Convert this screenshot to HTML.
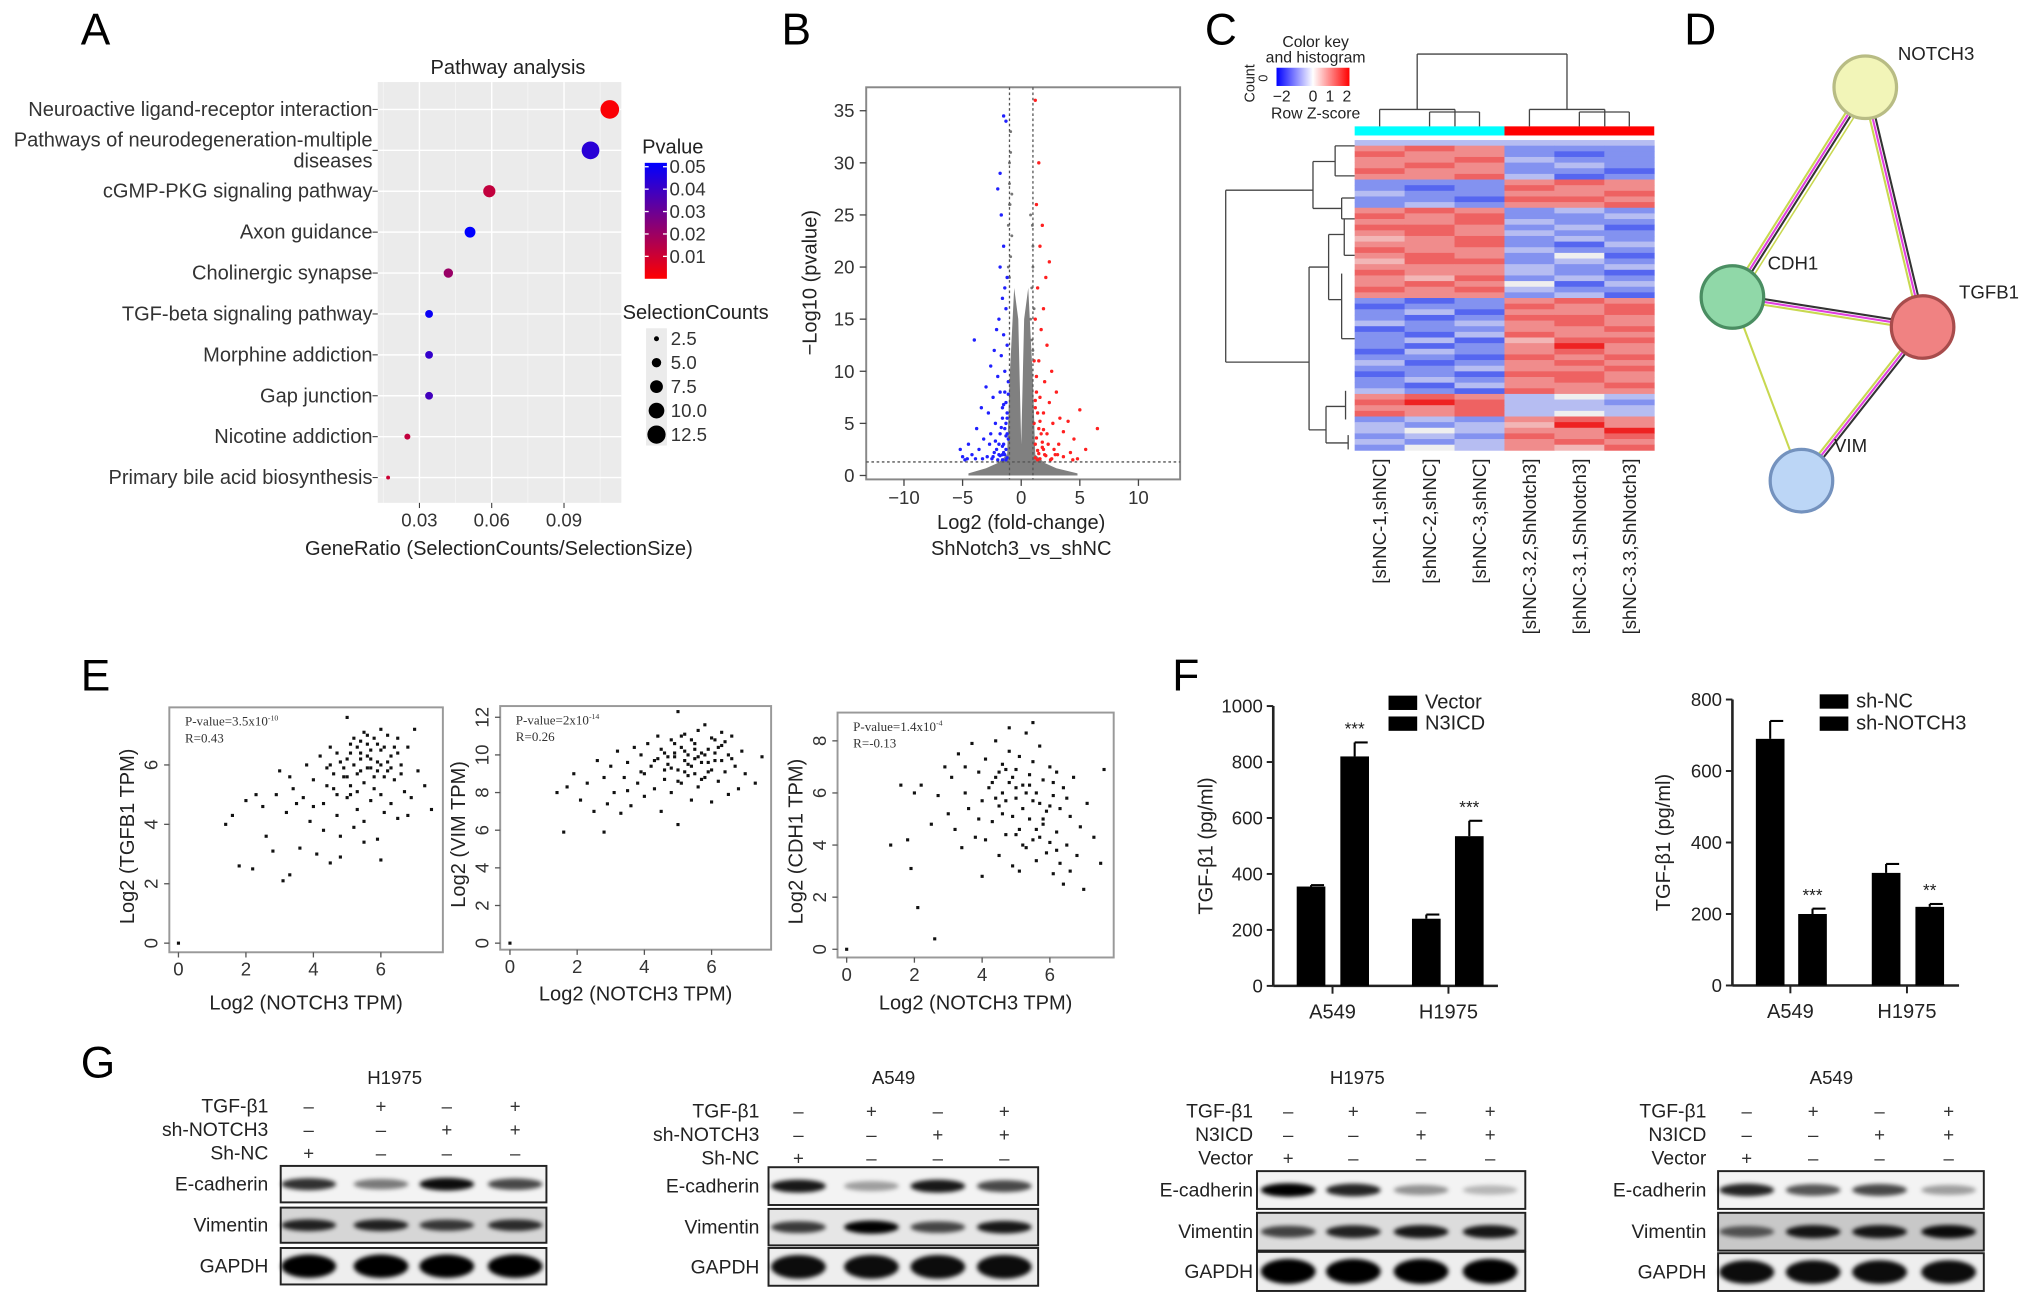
<!DOCTYPE html>
<html><head><meta charset="utf-8"><title>Figure</title>
<style>
html,body{margin:0;padding:0;background:#fff;}
svg{display:block;font-family:"Liberation Sans",sans-serif;}
.ser{font-family:"Liberation Serif",serif;}
</style></head>
<body>
<svg id="fig" width="2032" height="1304" viewBox="0 0 1560 1001" preserveAspectRatio="none" xmlns="http://www.w3.org/2000/svg">
<defs>
<linearGradient id="pgrad" x1="0" y1="0" x2="0" y2="1"><stop offset="0" stop-color="#0000ff"/><stop offset="1" stop-color="#ff0000"/></linearGradient>
<linearGradient id="zgrad" x1="0" y1="0" x2="1" y2="0"><stop offset="0" stop-color="#0000ff"/><stop offset="0.5" stop-color="#ffffff"/><stop offset="1" stop-color="#ff0000"/></linearGradient>
<filter id="blur" x="-30%" y="-80%" width="160%" height="260%"><feGaussianBlur stdDeviation="1.6"/></filter>
</defs>
<g font-size="34" fill="#000">
<text x="62" y="34">A</text>
<text x="600" y="34">B</text>
<text x="925" y="34">C</text>
<text x="1293" y="34">D</text>
<text x="62" y="530">E</text>
<text x="900" y="530">F</text>
<text x="62" y="827">G</text>
</g>
</svg>
<script>
// ===== DATA =====
// Panel A
const pathways = ["Neuroactive ligand-receptor interaction","Pathways of neurodegeneration-multiple|diseases","cGMP-PKG signaling pathway","Axon guidance","Cholinergic synapse","TGF-beta signaling pathway","Morphine addiction","Gap junction","Nicotine addiction","Primary bile acid biosynthesis"];
const geneRatio = [0.109,0.101,0.059,0.051,0.042,0.034,0.034,0.034,0.025,0.017];
const selCounts = [13,12,7,6,5,4,4,4,3,2];
const pvals = [0.001,0.042,0.012,0.05,0.02,0.048,0.04,0.037,0.012,0.01];
const aTicks = [0.03,0.06,0.09];
const pLegend = [0.05,0.04,0.03,0.02,0.01];
const sizeLegend = [2.5,5.0,7.5,10.0,12.5];
// Panel B volcano
const downX = [-1.5,-1.3,-1.8,-2.0,-1.7,-1.5,-1.8,-4.0,-1.2,-1.4,-1.6,-1.3,-1.9,-2.1,-1.5,-2.3,-1.7,-2.6,-1.4,-2.0,-3.0,-1.8,-2.4,-1.3,-3.4,-2.8,-1.6,-2.2,-3.8,-1.4,-2.6,-3.2,-4.5,-1.9,-5.2,-3.6,-2.3,-4.2,-2.9,-1.6,-5.0,-3.3,-2.0,-4.6,-1.2,-1.1,-1.2,-1.1,-1.3,-2.5,-1.5,-1.8,-1.3,-2.1,-1.6,-1.4,-2.7,-1.2,-1.9,-1.5,-1.2,-1.4,-1.6,-1.3,-1.7,-1.2,-1.5,-1.1,-2.2,-1.8,-3.9,-4.8,-2.4,-1.3,-1.6];
const downY = [34.5,34,29,27.5,25,22,20,13,19,18,17,16,15,14,13.5,12,11.5,10.5,10,9.5,8.5,8,7.5,7,6.5,6,5.5,5,4.5,4.5,4,3.5,3,3,2.5,2.5,2.2,2,1.8,2,1.8,1.6,1.5,1.6,12.5,9,6,3.5,2.5,1.6,3,4,5,2.5,6.5,8,3,4,2,2.2,1.7,2.0,2.8,3.8,4.6,5.5,6.8,7.8,3.3,1.9,1.6,1.5,1.8,1.5,1.5];
const upX = [1.2,1.5,1.3,1.8,2.4,1.6,2.1,1.4,1.9,1.2,1.7,2.2,1.5,2.6,1.3,2.0,3.0,1.6,2.4,1.2,1.9,3.3,2.7,1.5,5.0,6.5,4.0,3.6,2.2,4.5,1.8,3.2,5.5,2.8,1.4,4.2,2.0,3.6,1.6,4.8,2.5,1.1,1.1,1.2,1.4,1.7,2.3,1.3,1.9,2.9,1.2,1.5,1.8,1.3,2.1,1.6,1.2,2.6,3.1,4.4,1.4,1.9];
const upY = [36,30,26,24,20.5,22,19,18,16,15,14,12.5,11,10,9.5,9,8,7.5,7,6.5,6,5.5,5,4.5,6.3,4.5,5.2,4.2,4,3.5,3.2,3,2.5,2.5,2.4,2.2,2,1.8,1.6,1.6,1.5,11,5,3,6,4,3,8,2.5,2,1.7,2.1,2.7,3.6,1.9,5.2,7.2,1.6,2.0,1.5,1.5,4.4];
const grayEnvX = [-4.5,-3,-2,-1.2,-1.0,-0.6,-0.25,0,0.25,0.6,1.0,1.2,2,3,4.8];
const grayEnvY = [0.2,0.7,1.2,2,9,18,15,3,15,18,9,2,1.2,0.7,0.2];
const grayX = [-1.0,-1.0,-0.9,-1.1,-0.8,1.0,0.9,1.0,1.1,-0.9,0.8,-1.0,-0.9,-1.0,0.9,1.0,-0.8,0.8,-1.1,1.1,-0.95,0.95];
const grayY = [28,30,33,24,27,20,18,22,16,31,25,26,21,19,13,12,23,15,20,11,26,24];
const bXTicks = [-10,-5,0,5,10];
const bYTicks = [0,5,10,15,20,25,30,35];
// Panel C heatmap (digit 0..8 => z = (d-4)/2)
const heatRows = ["333333","676222","766212","667322","676232","766221","667312","222676","212766","322667","221776","232667","676232","767223","667322","776231","676322","567232","667213","766322","676241","577232","666323","766321","657232","676413","767322","666231","212676","122767","231667","212776","323676","122667","213766","231577","212686","132676","221767","312676","223667","121776","232676","213667","321766","676343","787332","667333","767343","232676","323586","343668","232767","323676","243657"];
const heatCols = ["[shNC-1,shNC]","[shNC-2,shNC]","[shNC-3,shNC]","[shNC-3.2,ShNotch3]","[shNC-3.1,ShNotch3]","[shNC-3.3,ShNotch3]"];
// Panel E scatter
const e1 = "0,0 1.4,4.0 1.6,4.3 1.8,2.6 2.2,2.5 2.0,4.8 2.3,5.0 2.5,4.6 2.6,3.6 2.8,3.1 3.1,2.1 3.3,2.3 3.0,5.8 3.2,4.4 3.4,5.2 3.6,3.2 3.7,4.9 3.8,6.0 3.9,4.1 4.0,5.5 4.1,3.0 4.2,6.3 4.3,4.7 4.4,5.9 4.5,2.7 4.5,6.6 4.6,5.2 4.7,4.3 4.8,6.1 4.8,3.6 4.9,5.6 5.0,7.6 5.0,4.9 5.1,6.4 5.1,5.3 5.2,3.9 5.2,6.0 5.3,5.7 5.3,4.5 5.4,6.8 5.4,6.2 5.5,5.4 5.5,4.1 5.6,7.0 5.6,5.9 5.7,6.5 5.7,4.8 5.8,5.6 5.8,6.9 5.9,6.1 5.9,3.5 6.0,7.2 6.0,5.0 6.1,6.6 6.1,4.4 6.2,5.8 6.2,7.0 6.3,6.3 6.3,4.7 6.4,5.5 6.5,6.9 6.5,4.2 6.6,6.0 6.7,5.1 6.8,6.6 6.9,4.9 7.0,7.2 7.1,5.8 7.3,5.3 7.5,4.5 4.6,5.7 5.0,6.2 5.3,6.6 5.6,6.3 5.9,6.7 6.2,6.1 4.9,5.9 5.4,5.8 5.7,5.9 6.0,6.0 5.2,6.9 5.5,7.1 6.4,6.6 4.4,5.3 4.7,6.4 5.1,5.0 5.8,5.2 6.1,5.6 6.6,5.7 4.0,4.6 3.5,4.7 4.3,3.8 5.5,3.4 6.0,2.8 4.8,2.9 6.8,4.3 2.9,5.0 3.3,5.6 5.7,6.2 5.3,5.1 5.0,5.6 5.4,6.4 5.9,5.8 6.3,5.9 4.7,5.0 5.6,6.7 6.0,6.5 5.1,6.7 4.5,6.0 6.5,6.4";
const e2 = "0,0 1.4,8.0 1.6,5.9 1.7,8.3 1.9,9.0 2.1,7.6 2.3,8.5 2.5,7.0 2.6,9.7 2.8,5.9 2.9,7.4 3.0,9.4 3.1,8.0 3.2,10.2 3.3,6.9 3.4,8.8 3.5,9.6 3.6,7.3 3.7,10.4 3.8,8.5 3.9,9.1 4.0,7.8 4.1,10.6 4.2,9.4 4.3,8.2 4.4,11.0 4.4,9.8 4.5,7.0 4.6,10.1 4.6,8.7 4.7,9.5 4.8,10.8 4.8,8.0 4.9,9.9 5.0,12.3 5.0,6.3 5.0,9.2 5.1,10.4 5.1,8.5 5.2,9.7 5.2,11.1 5.3,8.9 5.3,10.0 5.4,9.4 5.4,7.6 5.5,10.6 5.5,9.0 5.6,11.3 5.6,8.3 5.7,10.1 5.7,9.6 5.8,11.6 5.8,8.8 5.9,10.3 6.0,9.2 6.0,7.5 6.1,10.8 6.1,9.7 6.2,8.6 6.3,10.5 6.3,11.2 6.4,9.1 6.5,10.0 6.5,7.9 6.6,11.0 6.7,9.4 6.8,8.2 6.9,10.2 7.0,9.0 7.3,8.5 7.5,9.9 4.5,10.3 4.9,10.6 5.2,10.2 5.5,9.8 5.8,10.0 6.1,10.1 4.7,9.9 5.3,9.5 5.6,9.9 5.9,9.6 4.3,9.7 6.2,10.4 5.1,11.0 5.4,10.8 4.8,9.3 5.7,8.7 3.9,10.0 6.4,10.7 2.8,8.8 3.5,8.1 4.0,9.0 6.6,9.8 5.0,8.6 6.0,10.9 5.2,9.1 4.6,9.2 5.9,9.1 6.3,9.7 4.9,10.1 5.5,10.3";
const e3 = "0,0 1.3,4.0 1.6,6.3 1.8,4.2 1.9,3.1 2.0,6.0 2.1,1.6 2.2,6.3 2.5,4.8 2.6,0.4 2.7,5.9 2.9,7.0 3.0,5.2 3.1,6.6 3.2,4.6 3.3,7.5 3.4,3.9 3.5,6.0 3.6,5.4 3.7,7.9 3.8,4.3 3.9,6.8 4.0,5.7 4.0,2.8 4.1,7.3 4.2,6.2 4.3,4.9 4.4,8.0 4.4,6.6 4.5,5.5 4.5,3.6 4.6,7.1 4.6,6.0 4.7,4.4 4.8,7.6 4.8,6.4 4.9,5.1 4.9,3.2 5.0,6.9 5.0,5.8 5.1,7.4 5.1,4.6 5.2,6.3 5.2,5.4 5.3,8.3 5.3,3.9 5.4,6.7 5.4,5.0 5.5,7.2 5.5,4.2 5.6,6.0 5.6,3.4 5.7,5.6 5.7,7.8 5.8,4.8 5.8,6.5 5.9,3.7 5.9,5.3 6.0,7.0 6.0,4.1 6.1,5.9 6.1,2.9 6.2,4.5 6.2,6.8 6.3,3.3 6.3,5.4 6.4,2.5 6.4,6.2 6.5,4.0 6.6,5.1 6.6,3.0 6.7,6.6 6.8,3.6 6.9,4.7 7.0,2.3 7.1,5.6 7.3,4.3 7.5,3.3 7.6,6.9 4.3,6.4 4.7,6.9 5.0,6.2 5.3,6.0 4.6,5.2 4.9,6.6 5.5,5.7 5.2,4.0 4.4,5.8 5.8,5.0 6.0,5.5 3.9,5.0 4.1,4.2 5.6,4.6 6.2,3.8 6.5,5.8 4.8,8.5 5.5,8.7 3.5,7.0 5.1,3.0 4.7,5.7 5.4,6.3 5.0,4.4 5.7,4.3 4.5,6.8 6.1,6.4";
const e1Ticks=[0,2,4,6], e1YTicks=[0,2,4,6];
const e2Ticks=[0,2,4,6], e2YTicks=[0,2,4,6,8,10,12];
const e3Ticks=[0,2,4,6], e3YTicks=[0,2,4,6,8];
// Panel F
const fGroups = ["A549","H1975"];
const f1Vector = [355,240], f1N3ICD = [820,535];
const f1VectorErr = [360,255], f1N3ICDErr = [870,590];
const f1Stars = ["***","***"];
const f1Ticks = [0,200,400,600,800,1000];
const f2ShNC = [690,315], f2ShNOTCH3 = [200,220];
const f2ShNCErr = [740,340], f2ShNOTCH3Err = [215,228];
const f2Stars = ["***","**"];
const f2Ticks = [0,200,400,600,800];
// Panel G band intensities
const g1Ecad=[0.8,0.5,0.95,0.7], g1Vim=[0.85,0.85,0.75,0.8], g1Gapdh=[1,1,1,1];
const g2Ecad=[0.9,0.35,0.9,0.7], g2Vim=[0.75,1,0.7,0.9], g2Gapdh=[0.95,0.95,0.95,0.95];
const g3Ecad=[1,0.85,0.4,0.25], g3Vim=[0.7,0.85,0.9,0.9], g3Gapdh=[1,1,1,1];
const g4Ecad=[0.85,0.65,0.7,0.35], g4Vim=[0.6,0.9,0.9,0.95], g4Gapdh=[0.95,0.95,0.95,0.95];

// ===== HELPERS =====
const NS='http://www.w3.org/2000/svg';
const FS=1.1;
const svg=document.getElementById('fig');
function mk(tag,attrs,parent){const e=document.createElementNS(NS,tag);for(const k in attrs)e.setAttribute(k,attrs[k]);(parent||svg).appendChild(e);return e;}
function T(str,x,y,size,anchor,extra){const e=mk('text',Object.assign({x:x,y:y,'font-size':size*FS,'text-anchor':anchor||'start',fill:'#000'},extra||{}));e.textContent=str;return e;}
function L(x1,y1,x2,y2,stroke,w,extra){return mk('line',Object.assign({x1:x1,y1:y1,x2:x2,y2:y2,stroke:stroke||'#000','stroke-width':w||1},extra||{}));}

// ===== PANEL A =====
(function(){
const ax=v=>322+(v-0.03)*1850, ay=i=>84+i*31.4;
let e=T('Pathway analysis',390,57,14,'middle',{fill:'#222'});

e=mk('rect',{x:290,y:63,width:187,height:323,fill:'#ebebeb'});

[0.015,0.045,0.075,0.105].forEach(v=>L(ax(v),63,ax(v),386,'#f6f6f6',0.6));
aTicks.forEach(v=>{L(ax(v),63,ax(v),386,'#fff',1.1);L(ax(v),386,ax(v),390,'#333',0.8);
 e=T(v.toFixed(2),ax(v),404,13,'middle',{fill:'#333'});
 });
pathways.forEach((p,i)=>{L(290,ay(i),477,ay(i),'#fff',1.1);L(286,ay(i),290,ay(i),'#333',0.8);
 const parts=p.split('|');
 if(parts.length==1){e=T(parts[0],286,ay(i)+5,14,'end',{fill:'#333'});}
 else{e=T(parts[0],286,ay(i)-3,14,'end',{fill:'#333'});const e2=T(parts[1],286,ay(i)+13,14,'end',{fill:'#333'});
 }
 });
const col=p=>{const t=Math.min(1,p/0.05);return 'rgb('+Math.round(255*(1-t))+',0,'+Math.round(255*t)+')';};
const rad=c=>2.6*Math.sqrt(c)-2.2;
geneRatio.forEach((g,i)=>{const c=mk('circle',{cx:ax(g),cy:ay(i),r:rad(selCounts[i]),fill:col(pvals[i])});
 });
e=T('GeneRatio (SelectionCounts/SelectionSize)',383,426,14,'middle',{fill:'#222'});

e=T('Pvalue',493,118,14,'start',{fill:'#222'});

e=mk('rect',{x:495,y:125,width:17,height:89,fill:'url(#pgrad)'});

pLegend.forEach(p=>{const y=214-(p/0.05)*86;L(495,y,498,y,'#fff',1);L(509,y,512,y,'#fff',1);
 e=T(p.toFixed(2),514,y+5,13,'start',{fill:'#333'});
 });
e=T('SelectionCounts',478,245,14,'start',{fill:'#222'});

mk('rect',{x:496,y:252,width:16,height:90,fill:'#ebebeb'});
sizeLegend.forEach((s,i)=>{const y=260+i*18.4;const c=mk('circle',{cx:504,cy:y,r:rad(s),fill:'#000'});
 
 e=T(s.toFixed(1),515,y+5,13,'start',{fill:'#333'});
 });
})();

// ===== PANEL B =====
(function(){
const bx=v=>784+9*v, by=v=>365-8*v;
let e=mk('rect',{x:665,y:67,width:241,height:301,fill:'#fff',stroke:'#888','stroke-width':1.5});

bYTicks.forEach(v=>{L(660,by(v),665,by(v),'#444',1);e=T(String(v),656,by(v)+5,13,'end',{fill:'#333'});
 });
bXTicks.forEach(v=>{L(bx(v),368,bx(v),373,'#444',1);e=T(v<0?'\u2212'+(-v):String(v),bx(v),387,13,'middle',{fill:'#333'});
 });
let d='M'+bx(grayEnvX[0])+','+by(0);
grayEnvX.forEach((x,i)=>{d+=' L'+bx(x)+','+by(grayEnvY[i]);});
d+=' L'+bx(grayEnvX[grayEnvX.length-1])+','+by(0)+' Z';
e=mk('path',{d:d,fill:'#808080'});

grayX.forEach((x,i)=>{const c=mk('circle',{cx:bx(x),cy:by(grayY[i]),r:1.1,fill:'#777'});
 });
downX.forEach((x,i)=>{const c=mk('circle',{cx:bx(x),cy:by(downY[i]),r:1.3,fill:'#2020ff'});
 });
upX.forEach((x,i)=>{const c=mk('circle',{cx:bx(x),cy:by(upY[i]),r:1.3,fill:'#ff2020'});
 });
[-1,1].forEach(v=>L(bx(v),67,bx(v),368,'#555',1,{'stroke-dasharray':'2,2'}));
L(665,by(1.3),906,by(1.3),'#555',1,{'stroke-dasharray':'2,2'});
e=T('\u2212Log10 (pvalue)',627,217,14,'middle',{transform:'rotate(-90 627 217)',fill:'#222'});

e=T('Log2 (fold-change)',784,406,14,'middle',{fill:'#222'});

e=T('ShNotch3_vs_shNC',784,426,14,'middle',{fill:'#222'});

})();

// ===== PANEL C =====
(function(){
const x0=1040,cw=230/6,y0=107.5,rh=(345.7-107.5)/heatRows.length;
const pal=["#3040ee","#5566f0","#8392f0","#b6bdf2","#efefef","#f2b6b6","#f08c8c","#ee6262","#ee2222"];
heatRows.forEach((row,r)=>{for(let c=0;c<6;c++){const d=+row[c];
 const e=mk('rect',{x:x0+c*cw,y:y0+r*rh,width:cw+0.3,height:rh+0.3,fill:pal[d]});
 }});
let e=mk('rect',{x:1040,y:97,width:115,height:7,fill:'#00ffff'});

e=mk('rect',{x:1155,y:97,width:115,height:7,fill:'#ff0000'});

const cx=c=>x0+(c+0.5)*cw;
[[1088,41.5,1203,41.5],[1088,41.5,1088,84],[1203,41.5,1203,84],[cx(0),84,1117,84],[cx(0),84,cx(0),97],[1117,84,1117,97],[cx(1),86,cx(2),86],[cx(1),86,cx(1),97],[cx(2),86,cx(2),97],
 [cx(3),84,1232,84],[cx(3),84,cx(3),97],[1232,84,1232,97],[cx(4),86,cx(5),86],[cx(4),86,cx(4),97],[cx(5),86,cx(5),97]].forEach(a=>{const l=L(a[0],a[1],a[2],a[3],'#444',1);
 });
const rg=[[941,146,941,278],[941,146,1008,146],[941,278,1005,278],[1008,124,1008,160],[1008,124,1025,124],[1008,160,1030,160],[1025,112,1025,135],[1030,152,1030,168],
 [1005,205,1005,330],[1005,205,1020,205],[1005,330,1018,330],[1020,180,1020,230],[1018,312,1018,340],[1020,180,1032,180],[1020,230,1030,230],[1032,168,1032,196],[1030,210,1030,260],[1018,312,1033,312],[1018,340,1035,340],[1025,112,1040,112],[1025,135,1040,135],[1030,152,1040,152],[1030,168,1040,168],[1032,196,1040,196],[1030,260,1040,260],[1033,300,1033,322],[1035,334,1035,345]];
rg.forEach(a=>{const l=L(a[0],a[1],a[2],a[3],'#444',1);});
heatCols.forEach((n,c)=>{const x=cx(c)+5;e=T(n,x,352,13,'end',{transform:'rotate(-90 '+x+' 352)',fill:'#222'});
 });
e=T('Color key',1010,36,11,'middle',{fill:'#222'});
e=T('and histogram',1010,48,11,'middle',{fill:'#222'});
e=mk('rect',{x:980,y:52,width:56,height:14,fill:'url(#zgrad)'});
e=T('Count',963,64,10,'middle',{transform:'rotate(-90 963 64)',fill:'#222'});
e=T('0',973,60,9,'middle',{transform:'rotate(-90 973 60)',fill:'#222'});

[['\u22122',984],['0',1008],['1',1021],['2',1034]].forEach(t=>{e=T(t[0],t[1],78,11,'middle',{fill:'#222'});
 });
e=T('Row Z-score',1010,91,11,'middle',{fill:'#222'});
})();

// ===== PANEL D =====
(function(){
const nodes={NOTCH3:[1432,67,'#f2f5b8','#b8bc84'],CDH1:[1330,228,'#90d8a8','#4a8e62'],TGFB1:[1476,251,'#f08282','#a84c4c'],VIM:[1383,369,'#bcd6f6','#7492be']};
const multi=[['NOTCH3','CDH1'],['NOTCH3','TGFB1'],['CDH1','TGFB1'],['TGFB1','VIM']];
const cols=['#333','#e040e0','#c8d850'];
multi.forEach(p=>{const a=nodes[p[0]],b=nodes[p[1]];const dx=b[0]-a[0],dy=b[1]-a[1],len=Math.hypot(dx,dy),nx=-dy/len,ny=dx/len;
 cols.forEach((c,k)=>{const o=(k-1)*2.2;const e=L(a[0]+nx*o,a[1]+ny*o,b[0]+nx*o,b[1]+ny*o,c,1.6);
 });});
let e=L(1330,228,1383,369,'#c8d850',1.6);
e=L(1432,67,1330,228,'#c8d850',1.2,{transform:'translate(4,3)'});

Object.keys(nodes).forEach(k=>{const n=nodes[k];const c=mk('circle',{cx:n[0],cy:n[1],r:24,fill:n[2],stroke:n[3],'stroke-width':2.5});
 });
[['NOTCH3',1457,46],['CDH1',1357,207],['TGFB1',1504,229],['VIM',1408,347]].forEach(t=>{e=T(t[0],t[1],t[2],13,'start',{fill:'#222'});
 });
})();

// ===== PANEL E =====
function scatter(data,fr,sx,sy,xt,yt,ylab,pv,r,xlabY){
 let e=mk('rect',{x:fr[0],y:fr[1],width:fr[2]-fr[0],height:fr[3]-fr[1],fill:'#fff',stroke:'#999','stroke-width':1.5});
 
 data.split(' ').forEach(pt=>{const a=pt.split(',').map(Number);const c=mk('rect',{x:sx(a[0])-1.2,y:sy(a[1])-1.2,width:2.4,height:2.4,fill:'#111'});
 });
 xt.forEach(v=>{L(sx(v),fr[3],sx(v),fr[3]+4,'#555',1);e=T(String(v),sx(v),fr[3]+18,13,'middle',{fill:'#333'});
 });
 yt.forEach(v=>{L(fr[0]-4,sy(v),fr[0],sy(v),'#555',1);const x=fr[0]-9;e=T(String(v),x,sy(v),13,'middle',{transform:'rotate(-90 '+x+' '+sy(v)+')',fill:'#333'});
 });
 const cy=(fr[1]+fr[3])/2+5, lx=fr[0]-27;
 e=T(ylab,lx,cy,14,'middle',{transform:'rotate(-90 '+lx+' '+cy+')',fill:'#222'});
 
 e=T('Log2 (NOTCH3 TPM)',(fr[0]+fr[2])/2,xlabY,14,'middle',{fill:'#222'});
 
 e=mk('text',{x:fr[0]+12,y:fr[1]+14,'font-size':10,fill:'#333','class':'ser'});
 e.innerHTML='P-value='+pv[0]+'x10<tspan dy="-4" font-size="6">'+pv[1]+'</tspan>';
 
 e=mk('text',{x:fr[0]+12,y:fr[1]+27,'font-size':10,fill:'#333','class':'ser'});e.textContent='R='+r;
 
}
scatter(e1,[130,543,340,731],v=>137+25.9*v,v=>724-22.8*v,e1Ticks,e1YTicks,'Log2 (TGFB1 TPM)',['3.5','-10'],'0.43',775);
scatter(e2,[384,542,592,729],v=>391.5+25.8*v,v=>724-14.45*v,e2Ticks,e2YTicks,'Log2 (VIM TPM)',['2','-14'],'0.26',768);
scatter(e3,[643,547,855,735],v=>650+26*v,v=>728.7-20*v,e3Ticks,e3YTicks,'Log2 (CDH1 TPM)',['1.4','-4'],'-0.13',775);

// ===== PANEL F =====
function barChart(axX,axEnd,y0,k,ticks,s1,s2,e1,e2,stars,barX,ylabX,legY,legNames,legX,grpX,name){
 const fy=v=>y0-k*v;
 let e;
 L(axX,fy(ticks[ticks.length-1]),axX,y0,'#222',2);L(axX,y0,axEnd,y0,'#222',2);
 ticks.forEach(v=>{L(axX-5,fy(v),axX,fy(v),'#222',1.5);e=T(String(v),axX-8,fy(v)+5,13,'end',{fill:'#222'});
 });
 fGroups.forEach((g,i)=>{
  [[s1,e1,barX[i][0]],[s2,e2,barX[i][1]]].forEach((s,j)=>{const x=s[2],w=22;
   L(x+w/2,fy(s[1][i]),x+w/2,fy(s[0][i]),'#000',1.6);L(x+w/2,fy(s[1][i]),x+w-1,fy(s[1][i]),'#000',1.6);
   const b=mk('rect',{x:x,y:fy(s[0][i]),width:w,height:y0-fy(s[0][i]),fill:'#000'});
   });
  const sx=barX[i][1]+11;e=T(stars[i],sx,fy(e2[i])-6,12,'middle',{fill:'#222'});
  
  L(grpX[i],y0,grpX[i],y0+6,'#222',1.5);
  e=T(g,grpX[i],y0+25,14,'middle',{fill:'#222'});});
 const cy=(fy(ticks[ticks.length-1])+y0)/2;
 e=T('TGF-\u03b21 (pg/ml)',ylabX,cy,14,'middle',{transform:'rotate(-90 '+ylabX+' '+cy+')',fill:'#222'});
 
 legNames.forEach((n,i)=>{const r=mk('rect',{x:legX,y:legY[i]-5,width:22,height:11,fill:'#000'});
  
  e=T(n,legX+28,legY[i]+5,14,'start',{fill:'#222'});});
}
barChart(977.5,1150,756.8,0.2148,f1Ticks,f1Vector,f1N3ICD,f1VectorErr,f1N3ICDErr,f1Stars,[[995.5,1029],[1084,1117]],931,[539,555],['Vector','N3ICD'],1066,[1023,1112],'tgfb1-overexpr');
barChart(1330,1504,756.5,0.2744,f2Ticks,f2ShNC,f2ShNOTCH3,f2ShNCErr,f2ShNOTCH3Err,f2Stars,[[1348,1380.5],[1437,1470.5]],1282,[538,555],['sh-NC','sh-NOTCH3'],1397,[1374.5,1464],'tgfb1-knockdown');

// ===== PANEL G =====
function blot(title,titleX,labelX,rowY,rowNames,signs,lanes,boxX,boxes,ec,vim,gap,vimBg){
 let e=T(title,titleX,832,13,'middle',{fill:'#222'});
 rowNames.forEach((n,i)=>{e=T(n,labelX,rowY[i]+5,13.5,'end',{fill:'#222'});
  signs[i].forEach((s,j)=>{e=T(s=='+'?'+':'\u2013',lanes[j],rowY[i]+5,13,'middle',{fill:'#333'});
  });});
 [['E-cadherin',ec,'#f3f3f3'],['Vimentin',vim,vimBg],['GAPDH',gap,'#eeeeee']].forEach((r,i)=>{const b=boxes[i];
  const bx=mk('rect',{x:boxX[0],y:b[0],width:boxX[1]-boxX[0],height:b[1]-b[0],fill:r[2],stroke:'#222','stroke-width':1.5});
  
  e=T(r[0],labelX,(b[0]+b[1])/2+5,13.5,'end',{fill:'#222'});
  r[1].forEach((v,j)=>{const h=(b[1]-b[0]);const el=mk('ellipse',{cx:lanes[j],cy:(b[0]+b[1])/2,rx:21,ry:h*(i==2?0.32:0.18)*(0.6+0.4*v),fill:'#000','fill-opacity':v,filter:'url(#blur)'});
   });});
}
const sgA=[['-','+','-','+'],['-','-','+','+'],['+','-','-','-']];
blot('H1975',303,206,[849,867,885],['TGF-\u03b21','sh-NOTCH3','Sh-NC'],sgA,[237,292.5,343,395.5],[215.5,419.5],[[895,923],[927,954],[958,986]],g1Ecad,g1Vim,g1Gapdh,'#d6d6d6');
blot('A549',686,583,[853,871,889],['TGF-\u03b21','sh-NOTCH3','Sh-NC'],sgA,[613,669,720,771],[590,797],[[896,925],[928,956],[958,987]],g2Ecad,g2Vim,g2Gapdh,'#e6e6e6');
blot('H1975',1042,962,[853,871,889],['TGF-\u03b21','N3ICD','Vector'],sgA,[989,1039,1091,1144],[965,1171],[[899,928],[931,960],[961,991]],g3Ecad,g3Vim,g3Gapdh,'#dcdcdc');
blot('A549',1406,1310,[853,871,889],['TGF-\u03b21','N3ICD','Vector'],sgA,[1341,1392,1443,1496],[1319,1523],[[899,928],[931,960],[962,991]],g4Ecad,g4Vim,g4Gapdh,'#c8c8c8');
</script>
</body></html>
